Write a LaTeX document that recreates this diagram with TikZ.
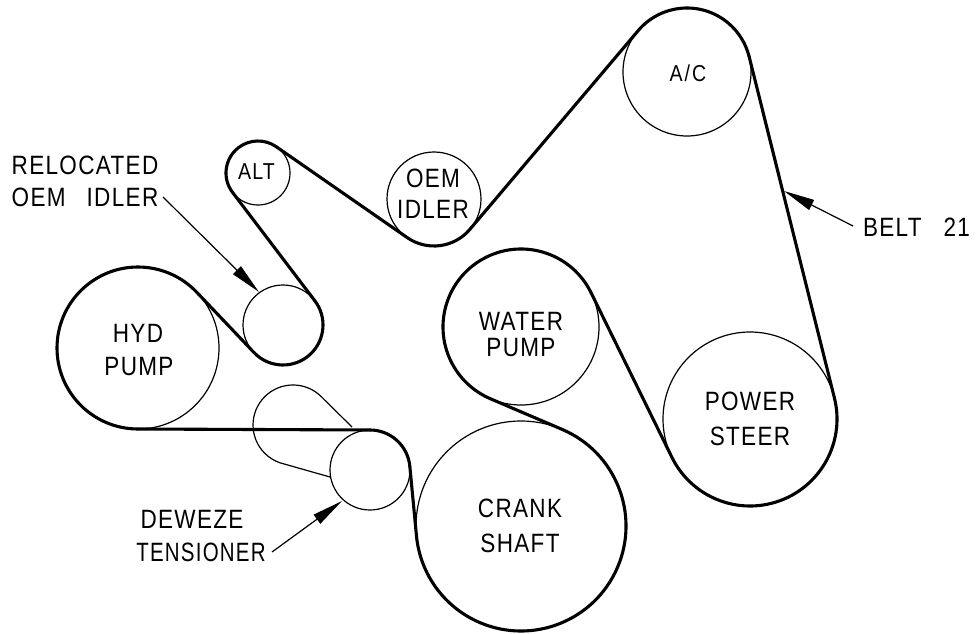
\documentclass[tikz,border=0pt]{standalone}
\usepackage{fontspec}
\setmainfont[FakeStretch=0.85,LetterSpace=5]{Liberation Sans}
\usetikzlibrary{arrows.meta}
\tikzset{
  thinline/.style={line width=1.2pt,black},
  pulley/.style={circle,draw,thinline,inner sep=0pt,outer sep=0pt},
  beltline/.style={line width=3.1pt,black,line cap=round},
  label/.style={inner sep=0pt,font=\fontsize{26.5}{30}\selectfont},
  smalllabel/.style={inner sep=0pt,font=\fontsize{23}{26}\selectfont},
  leader/.style={line width=1.2pt,-{Triangle[length=31pt,width=11pt]}}
}
\makeatletter
\newcommand\defpulley[5]{%
  \expandafter\xdef\csname px#1\endcsname{#2}%
  \expandafter\xdef\csname py#1\endcsname{\the\numexpr633-#3\relax}%
  \expandafter\xdef\csname pr#1\endcsname{#4}%
  \expandafter\xdef\csname ps#1\endcsname{#5}%
}
\newcommand\calctangent[2]{%
  \pgfmathsetmacro\tdx{\@nameuse{px#2}-\@nameuse{px#1}}%
  \pgfmathsetmacro\tdy{\@nameuse{py#2}-\@nameuse{py#1}}%
  \pgfmathsetmacro\tD{100*veclen(\tdx/100,\tdy/100)}%
  \pgfmathsetmacro\ttheta{acos((\@nameuse{ps#1}*\@nameuse{pr#1}-\@nameuse{ps#2}*\@nameuse{pr#2})/\tD)}%
  \pgfmathsetmacro\talpha{atan2(\tdy,\tdx)+\ttheta}%
  \pgfmathsetmacro\tout{\talpha+(\@nameuse{ps#1}<0?180:0)}%
  \pgfmathsetmacro\tin{\talpha+(\@nameuse{ps#2}<0?180:0)}%
  \expandafter\xdef\csname pout#1\endcsname{\tout}%
  \expandafter\xdef\csname pin#2\endcsname{\tin}%
}
\newcommand\drawtangent[2]{%
  \draw[beltline] (\@nameuse{px#1}+\@nameuse{pr#1}*cos \@nameuse{pout#1},\@nameuse{py#1}+\@nameuse{pr#1}*sin \@nameuse{pout#1})
    -- (\@nameuse{px#2}+\@nameuse{pr#2}*cos \@nameuse{pin#2},\@nameuse{py#2}+\@nameuse{pr#2}*sin \@nameuse{pin#2});%
}
\newcommand\drawwrap[1]{%
  \pgfmathsetmacro\wa{\@nameuse{pin#1}}%
  \pgfmathsetmacro\wb{\@nameuse{pout#1}}%
  \pgfmathsetmacro\we{\@nameuse{ps#1}>0 ? \wa-Mod(\wa-\wb,360) : \wa+Mod(\wb-\wa,360)}%
  \draw[beltline] (\@nameuse{px#1}+\@nameuse{pr#1}*cos \wa,\@nameuse{py#1}+\@nameuse{pr#1}*sin \wa)
    arc[start angle=\wa,end angle=\we,radius=\@nameuse{pr#1} pt];%
}
\newcommand\placepulley[1]{%
  \node[pulley,minimum size=2*\@nameuse{pr#1} pt] (#1) at (\@nameuse{px#1},\@nameuse{py#1}) {};%
}
\makeatother
\begin{document}
\begin{tikzpicture}[x=1pt,y=1pt]
\useasboundingbox (0,0) rectangle (977,633);
\defpulley{ac}{687}{72}{64}{1}
\defpulley{ps}{750}{419}{87}{1}
\defpulley{wp}{521}{327}{78}{-1}
\defpulley{cr}{521}{526}{105}{1}
\defpulley{te}{370}{470}{40}{-1}
\defpulley{hy}{138}{348}{81}{1}
\defpulley{id}{283}{325}{40}{-1}
\defpulley{at}{258}{173}{32}{1}
\defpulley{oe}{434}{199}{47}{-1}
\foreach \n in {ac,ps,wp,cr,te,hy,id,at,oe} {\placepulley{\n}}
% tensioner arm
\coordinate (armtop) at (352,206);
\coordinate (armlow) at (330,156);
\draw[thinline] (armtop) -- (321.3,236.3) arc[start angle=45,end angle=251,radius=40pt] -- (armlow);
% belt
\foreach \a/\b in {ac/ps,ps/wp,wp/cr,cr/te,te/hy,hy/id,id/at,at/oe,oe/ac} {\calctangent{\a}{\b}}
\foreach \a/\b in {ac/ps,ps/wp,wp/cr,cr/te,te/hy,hy/id,id/at,at/oe,oe/ac} {\drawtangent{\a}{\b}}
\foreach \n in {ac,ps,wp,cr,te,hy,id,at,oe} {\drawwrap{\n}}
% labels
\node[smalllabel] (tac) at (688,559.5) {A\hspace{2pt}/\hspace{2pt}C};
\node[smalllabel] (tat) at (256.5,461.5) {ALT};
\node[label] (toe1) at (433,455) {OEM};
\node[label] (toe2) at (433,424) {IDLER};
\node[label] (twp1) at (521,311.5) {WATER};
\node[label] (twp2) at (521,285.5) {PUMP};
\node[label] (tps1) at (750,232) {POWER};
\node[label] (tps2) at (750,197) {STEER};
\node[label] (tcr1) at (520,125) {CRANK};
\node[label] (tcr2) at (520,90) {SHAFT};
\node[label] (thy1) at (138,300) {HYD};
\node[label] (thy2) at (139,266) {PUMP};
\node[label] (trel1) at (85,467.5) {RELOCATED};
\node[label] (trel2) at (85,436) {OEM\hspace{21pt}IDLER};
\node[label] (tdew1) at (192,113.5) {DEWEZE};
\node[label] (tdew2) at (201,81) {\scalebox{0.91}[1]{TENSIONER}};
\node[label] (tbelt) at (916.5,405.5) {BELT\hspace{22pt}21};
% leaders
\coordinate (l1s) at (163,436);
\coordinate (l1e) at (259,341);
\coordinate (l2s) at (272,81);
\coordinate (l2e) at (342,132);
\coordinate (l3s) at (853,407);
\coordinate (l3e) at (784,442);
\draw[leader] (l1s) -- (l1e);
\draw[leader] (l2s) -- (l2e);
\draw[leader] (l3s) -- (l3e);
\end{tikzpicture}
\end{document}
